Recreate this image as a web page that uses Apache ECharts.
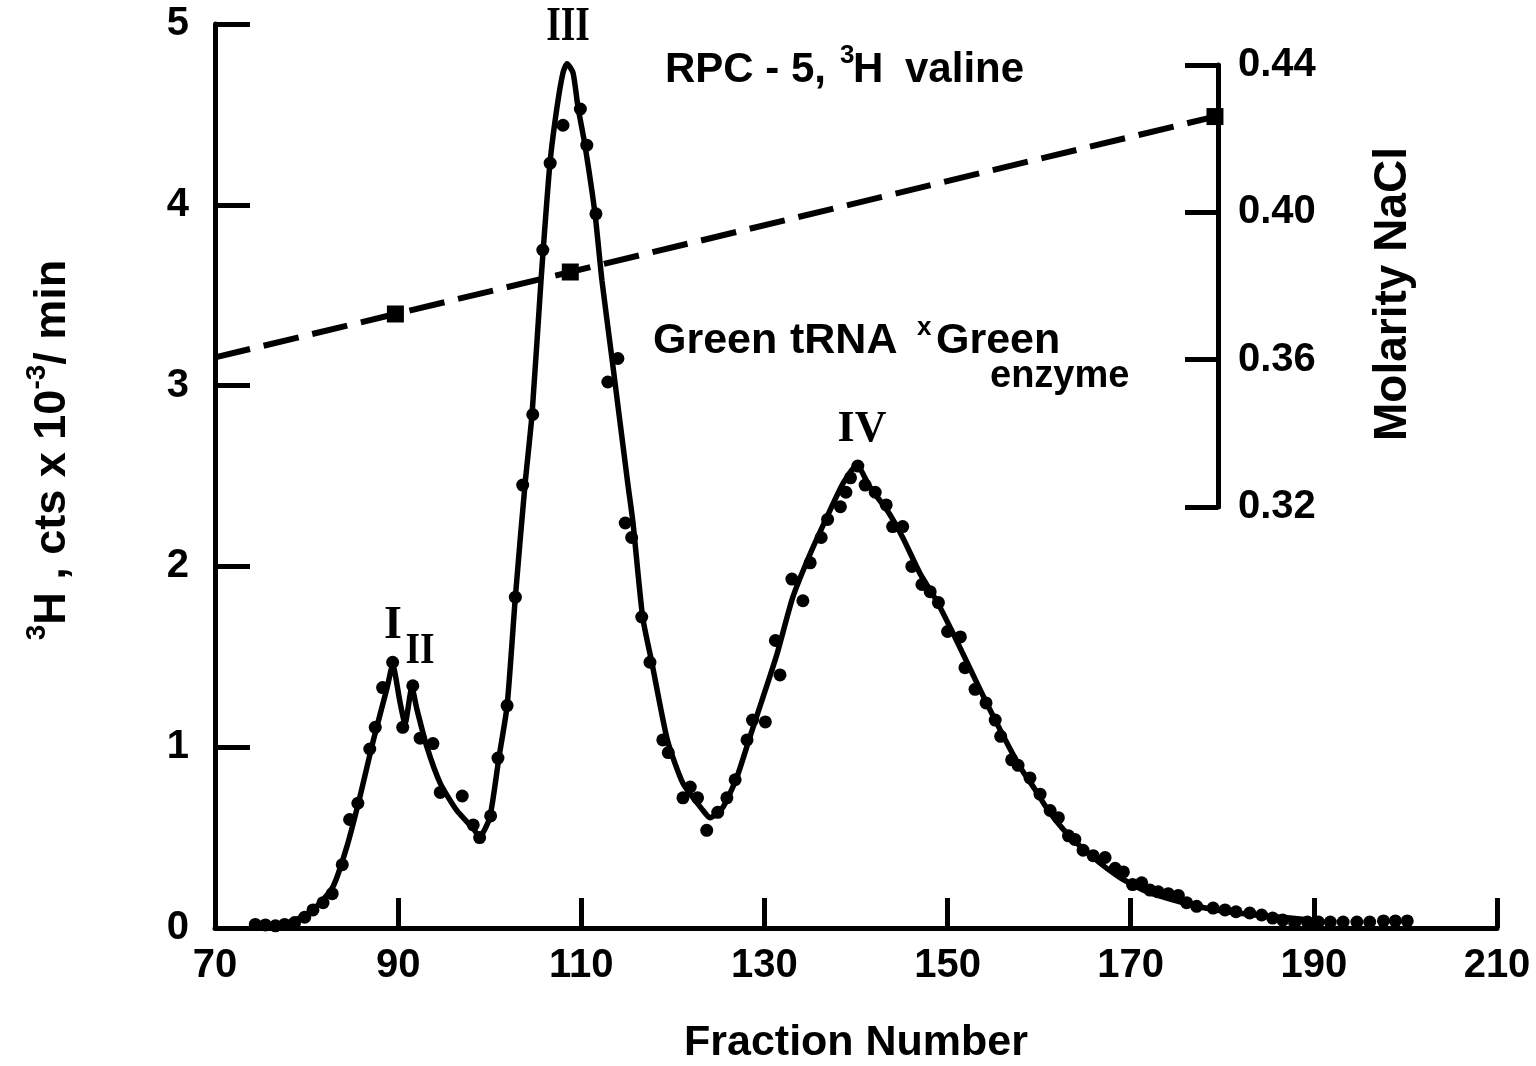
<!DOCTYPE html>
<html>
<head>
<meta charset="utf-8">
<script src="https://cdn.jsdelivr.net/npm/echarts@6/dist/echarts.min.js"></script>
<style>
html,body{margin:0;padding:0;background:#fff;}
#chart{width:1536px;height:1066px;}
</style>
</head>
<body>
<div id="chart"></div>
<script>
// ---- measured points (fraction number, 3H cts x 10^-3/min) ----
const pointFractions = [74.4,75.5,76.6,77.6,78.7,79.8,80.7,81.8,82.8,83.9,84.7,85.6,86.9,87.5,88.3,89.4,90.5,91.6,92.4,93.8,94.6,97.0,98.2,98.9,100.1,100.9,101.9,102.8,103.6,104.7,105.8,106.6,108.0,109.9,110.6,111.6,112.9,114.0,114.8,115.5,116.6,117.5,118.9,119.5,121.1,121.9,122.7,123.7,124.9,125.9,126.8,128.1,128.7,130.1,131.2,131.7,133.0,134.2,135.0,136.2,136.9,138.3,138.9,139.4,140.2,141.0,142.1,143.3,144.0,145.1,146.1,147.2,148.1,149.0,150.0,151.4,151.9,153.0,154.2,155.2,155.8,157.0,157.7,159.0,160.1,161.2,162.1,163.2,163.9,164.8,165.9,167.2,168.3,169.2,170.2,171.2,172.1,173.0,174.1,175.2,176.1,177.2,179.0,180.3,181.5,183.0,184.3,185.5,186.6,187.9,189.3,190.5,191.8,193.2,194.7,196.1,197.6,198.9,200.2];
const pointCounts = [0.02,0.017,0.012,0.02,0.03,0.06,0.10,0.14,0.19,0.35,0.60,0.69,0.99,1.11,1.33,1.47,1.11,1.34,1.05,1.02,0.75,0.73,0.57,0.50,0.62,0.94,1.23,1.83,2.45,2.84,3.75,4.23,4.44,4.53,4.33,3.95,3.02,3.15,2.24,2.16,1.72,1.47,1.04,0.97,0.72,0.78,0.72,0.54,0.64,0.72,0.82,1.04,1.15,1.14,1.59,1.40,1.93,1.81,2.02,2.16,2.26,2.33,2.41,2.49,2.555,2.45,2.41,2.34,2.22,2.22,2.00,1.90,1.86,1.80,1.64,1.61,1.44,1.32,1.245,1.15,1.06,0.93,0.90,0.83,0.74,0.65,0.61,0.51,0.49,0.43,0.40,0.39,0.33,0.31,0.24,0.25,0.21,0.20,0.19,0.18,0.14,0.12,0.11,0.10,0.09,0.083,0.072,0.055,0.044,0.028,0.033,0.033,0.033,0.033,0.033,0.033,0.039,0.039,0.039];

// ---- drawn smooth curve ----
const curveFractions = [74.9,76.5,78.2,79.8,81.1,82.9,84.4,85.8,87.3,88.8,89.4,90.2,90.75,91.5,92.05,93.15,94.6,96.4,98.2,98.9,100.0,101.0,101.9,102.8,103.85,104.62,105.6,106.58,107.35,108.0,108.44,109.1,109.64,110.4,111.5,112.26,113.35,115.1,115.65,116.7,117.7,119.4,121.1,123.3,124.05,125.5,127.0,128.5,130.0,131.4,133.1,135.0,136.8,138.6,140.1,141.5,143.4,145.1,147.0,148.8,150.6,152.5,154.3,156.1,157.8,159.5,161.0,163.0,165.9,168.8,171.8,174.6,177.6,180.5,184.0,187.4,189.6];
const curveCounts = [0.005,0.012,0.033,0.07,0.12,0.23,0.45,0.72,1.04,1.33,1.455,1.25,1.13,1.33,1.21,1.0,0.80,0.65,0.55,0.505,0.61,0.94,1.23,1.83,2.45,2.84,3.58,4.23,4.54,4.73,4.78,4.73,4.54,4.33,3.95,3.58,3.15,2.45,2.24,1.72,1.47,1.04,0.80,0.65,0.61,0.67,0.835,1.07,1.30,1.52,1.83,2.07,2.27,2.46,2.56,2.44,2.31,2.16,1.96,1.81,1.63,1.43,1.24,1.06,0.90,0.77,0.65,0.525,0.39,0.28,0.20,0.155,0.116,0.09,0.07,0.055,0.044];

// ---- NaCl gradient (dashed line) ----
const gradientFractions = [70, 89.7, 108.8, 179.2];
const gradientMolarity = [0.3606, 0.3724, 0.3838, 0.4260];
const gradientMarker = [false, true, true, true];

// ---- axes ----
const xTicks = {min: 70, max: 210, interval: 20};
const yTicks = {min: 0, max: 5, interval: 1};
const molTicks = {min: 0.32, max: 0.44, interval: 0.04};

// ---- texts ----
const peakLabels = ['I', 'II', 'III', 'IV'];

const chart = echarts.init(document.getElementById('chart'));
const sans = 'Liberation Sans';
const black = '#000';

function txt(x, y, text, size, family) {
  return {type: 'text', x: x, y: y, style: {
    text: text, font: 'bold ' + size + 'px "' + family + '"', fill: black,
    align: 'left', verticalAlign: 'middle'
  }};
}
function ctxt(x, y, text, size, family, scaleX) {
  return {type: 'text', x: x, y: y, scaleX: scaleX || 1, style: {
    text: text, font: 'bold ' + size + 'px "' + family + '"', fill: black,
    align: 'center', verticalAlign: 'middle'
  }};
}

const option = {
  animation: false,
  backgroundColor: '#fff',
  grid: [
    {left: 215, right: 39, top: 24, bottom: 138, outerBoundsMode: 'none', containLabel: false},
    {left: 215, right: 39, top: 65, height: 442, outerBoundsMode: 'none', containLabel: false}
  ],
  xAxis: [
    {
      type: 'value', gridIndex: 0,
      min: xTicks.min, max: xTicks.max, interval: xTicks.interval,
      name: 'Fraction Number', nameLocation: 'middle', nameGap: 94,
      nameTextStyle: {fontFamily: sans, fontWeight: 'bold', fontSize: 43, color: black},
      axisLine: {onZero: false, lineStyle: {color: black, width: 5}},
      axisTick: {inside: true, length: 30, lineStyle: {color: black, width: 5}},
      axisLabel: {margin: 18, fontFamily: sans, fontWeight: 'bold', fontSize: 40, color: black},
      splitLine: {show: false}
    },
    {
      type: 'value', gridIndex: 1, show: false,
      min: xTicks.min, max: xTicks.max
    }
  ],
  yAxis: [
    {
      type: 'value', gridIndex: 0,
      min: yTicks.min, max: yTicks.max, interval: yTicks.interval,
      name: '{s|3}{b|H , cts x 10}{s|-3}{b|/ min}',
      nameLocation: 'middle', nameGap: 140, nameRotate: 90,
      nameTextStyle: {
        color: black, padding: [0, 0, 0, 52],
        rich: {
          b: {fontFamily: sans, fontWeight: 'bold', fontSize: 45, lineHeight: 52, verticalAlign: 'bottom', color: black},
          s: {fontFamily: sans, fontWeight: 'bold', fontSize: 28, lineHeight: 52, verticalAlign: 'top', color: black}
        }
      },
      axisLine: {onZero: false, lineStyle: {color: black, width: 5}},
      axisTick: {inside: true, length: 35, lineStyle: {color: black, width: 5}},
      axisLabel: {margin: 26, fontFamily: sans, fontWeight: 'bold', fontSize: 40, color: black},
      splitLine: {show: false}
    },
    {
      type: 'value', gridIndex: 1, position: 'right', offset: -279,
      min: molTicks.min, max: molTicks.max, interval: molTicks.interval,
      name: 'Molarity NaCl', nameLocation: 'middle', nameGap: 152, nameRotate: 90,
      nameTextStyle: {fontFamily: sans, fontWeight: 'bold', fontSize: 46, color: black, padding: [0, 16, 0, 0]},
      axisLine: {onZero: false, lineStyle: {color: black, width: 5}},
      axisTick: {inside: true, length: 33, lineStyle: {color: black, width: 5}},
      axisLabel: {margin: 20, fontFamily: sans, fontWeight: 'bold', fontSize: 40, color: black,
        formatter: v => v.toFixed(2)},
      splitLine: {show: false}
    }
  ],
  series: [
    {
      type: 'line', xAxisIndex: 0, yAxisIndex: 0,
      data: curveFractions.map((f, i) => [f, curveCounts[i]]),
      showSymbol: false, symbol: 'none', smooth: 0.2,
      lineStyle: {color: black, width: 5.5}, z: 3
    },
    {
      type: 'scatter', xAxisIndex: 0, yAxisIndex: 0,
      data: pointFractions.map((f, i) => [f, pointCounts[i]]),
      symbol: 'circle', symbolSize: 13,
      itemStyle: {color: black, opacity: 1}, z: 4
    },
    {
      type: 'line', xAxisIndex: 1, yAxisIndex: 1,
      data: gradientFractions.map((f, i) => ({
        value: [f, gradientMolarity[i]],
        symbol: gradientMarker[i] ? 'rect' : 'none'
      })),
      symbol: 'rect', symbolSize: 17, showAllSymbol: true,
      itemStyle: {color: black, opacity: 1},
      lineStyle: {color: black, width: 6, type: [36, 14]}, z: 2
    }
  ],
  graphic: [
    ctxt(393, 626, peakLabels[0], 46, 'Liberation Serif', 1),
    ctxt(420, 652, peakLabels[1], 44, 'Liberation Serif', 0.85),
    ctxt(568, 28, peakLabels[2], 48, 'Liberation Serif', 0.78),
    ctxt(862, 430, peakLabels[3], 44, 'Liberation Serif', 1),
    txt(665, 70, 'RPC - 5,', 42, sans),
    txt(840, 56, '3', 26, sans),
    txt(853, 70, 'H', 42, sans),
    txt(905, 70, 'valine', 42, sans),
    txt(653, 341, 'Green', 43, sans),
    txt(790, 341, 'tRNA', 43, sans),
    txt(917, 328, 'x', 26, sans),
    txt(936, 341, 'Green', 43, sans),
    txt(990, 377, 'enzyme', 38, sans)
  ]
};
chart.setOption(option);
</script>
</body>
</html>
